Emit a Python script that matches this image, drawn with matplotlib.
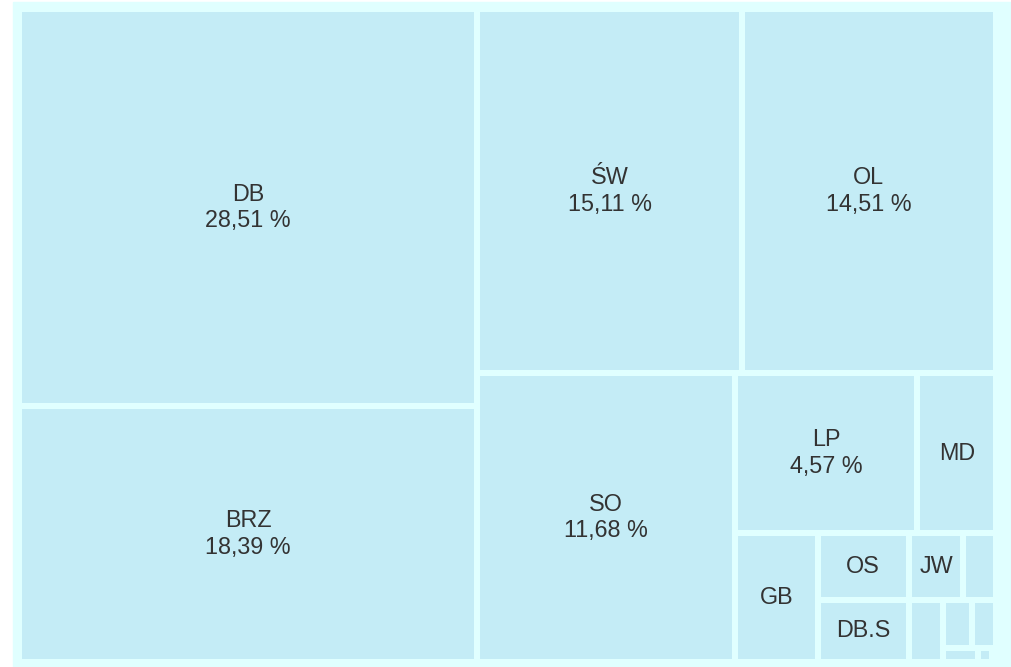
import matplotlib
matplotlib.use('Agg')
import matplotlib.pyplot as plt
from matplotlib.patches import Rectangle

# treemap data (share in %), sorted descending
labels = ['DB', 'BRZ', 'ŚW', 'OL', 'SO', 'LP', 'MD', 'GB', 'OS', 'DB.S', 'JW',
          '', '', '', '', '', '', '']
values = [28.51, 18.39, 15.11, 14.51, 11.68, 4.57, 1.97, 1.66, 0.95, 0.89, 0.57,
          0.34, 0.33, 0.22, 0.18, 0.08, 0.03, 0.01]

BG = '#e0ffff'
TILE = '#c4ecf6'
TXT = '#333333'
W, H = 977, 653   # layout box in pixels
GAP = 3


# ---- squarified layout ----
def layout_row(sizes, x, y, dx, dy):
    width = sum(sizes) / dy
    out = []
    for s in sizes:
        out.append((x, y, width, s / width))
        y += s / width
    return out


def layout_col(sizes, x, y, dx, dy):
    height = sum(sizes) / dx
    out = []
    for s in sizes:
        out.append((x, y, s / height, height))
        x += s / height
    return out


def layout(sizes, x, y, dx, dy):
    return layout_row(sizes, x, y, dx, dy) if dx >= dy else layout_col(sizes, x, y, dx, dy)


def leftover(sizes, x, y, dx, dy):
    a = sum(sizes)
    if dx >= dy:
        w = a / dy
        return x + w, y, dx - w, dy
    h = a / dx
    return x, y + h, dx, dy - h


def worst(sizes, x, y, dx, dy):
    r = []
    for (_, _, w, h) in layout(sizes, x, y, dx, dy):
        r.append(max(w / h, h / w))
    return max(r)


def squarify(sizes, x, y, dx, dy):
    if not sizes:
        return []
    if len(sizes) == 1:
        return layout(sizes, x, y, dx, dy)
    i = 1
    while i < len(sizes) and worst(sizes[:i], x, y, dx, dy) >= worst(sizes[:i + 1], x, y, dx, dy):
        i += 1
    lx, ly, ldx, ldy = leftover(sizes[:i], x, y, dx, dy)
    return layout(sizes[:i], x, y, dx, dy) + squarify(sizes[i:], lx, ly, ldx, ldy)


total = sum(values)
norm = [v * W * H / total for v in values]
rects = squarify(norm, 0, 0, W, H)

fig = plt.figure(figsize=(10.12, 6.67), dpi=100)
fig.patch.set_facecolor('white')
fig.patches.append(Rectangle((13 / 1012, 0), 999 / 1012, 665 / 667,
                             transform=fig.transFigure, color=BG, zorder=-5))

ax = fig.add_axes([19 / 1012, 5 / 667, W / 1012, H / 667])
ax.set_xlim(0, W)
ax.set_ylim(H, 0)
ax.axis('off')

for (x, y, w, h), lab, v in zip(rects, labels, values):
    if w <= 2 * GAP or h <= 2 * GAP:
        continue
    ax.add_patch(Rectangle((x + GAP, y + GAP), w - 2 * GAP, h - 2 * GAP,
                           facecolor=TILE, edgecolor='none'))
    if not lab:
        continue
    txt = lab
    if v >= 4:
        txt = lab + '\n' + f'{v:.2f}'.replace('.', ',') + ' %'
    ax.text(x + w / 2, y + h / 2, txt, ha='center', va='center',
            fontsize=16.8, color=TXT, family='Liberation Sans', linespacing=1.2)

fig.savefig('out.png', dpi=100)
